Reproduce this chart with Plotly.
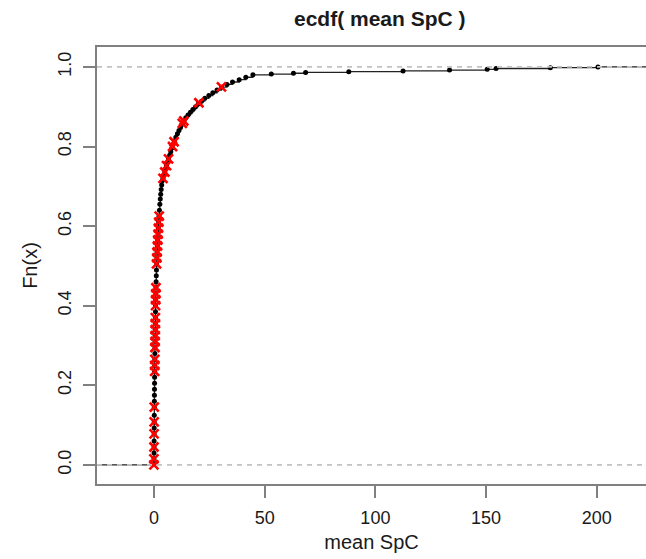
import plotly.graph_objects as go

# ECDF points (x = mean SpC, F = Fn(x))
ecdf_x = [0.0, 0.02, 0.04, 0.06, 0.08, 0.1, 0.12, 0.14, 0.16, 0.18,
          0.2, 0.23, 0.26, 0.29, 0.32, 0.35, 0.38, 0.41, 0.44, 0.47,
          0.5, 0.54, 0.58, 0.62, 0.66, 0.7, 0.75, 0.8, 0.86, 0.92,
          0.98, 1.06, 1.14, 1.23, 1.33, 1.44, 1.56, 1.69, 1.83, 1.98,
          2.14, 2.3, 2.48, 2.67, 2.87, 3.07, 3.28, 3.5, 3.78,
          4.1, 4.5, 4.9, 5.3, 5.7, 6.1, 6.6, 7.1, 7.6, 8.1,
          8.6, 9.2, 9.9, 10.6, 11.3, 12.0, 12.7, 13.5, 14.4, 15.4,
          16.5, 17.6, 18.8, 20.0, 21.5, 23.0, 24.8, 26.6, 28.5, 30.5,
          33.0, 35.5, 38.5, 41.5, 44.7,
          53.0, 63.0, 68.5, 88.0, 112.5, 133.5, 150.5, 154.5, 179.0, 200.5]
ecdf_F = [0.002, 0.015, 0.03, 0.045, 0.06, 0.078, 0.093, 0.108, 0.125, 0.145,
          0.16, 0.175, 0.19, 0.205, 0.22, 0.235, 0.25, 0.265, 0.28, 0.295,
          0.31, 0.325, 0.34, 0.355, 0.37, 0.385, 0.4, 0.415, 0.43, 0.445,
          0.46, 0.475, 0.49, 0.505, 0.52, 0.535, 0.55, 0.565, 0.58, 0.595,
          0.61, 0.625, 0.64, 0.655, 0.668, 0.68, 0.692, 0.703, 0.714,
          0.72, 0.728, 0.736, 0.744, 0.752, 0.76, 0.769, 0.778, 0.787, 0.796,
          0.805, 0.814, 0.823, 0.832, 0.84, 0.848, 0.856, 0.864, 0.872, 0.879,
          0.886, 0.893, 0.9, 0.907, 0.914, 0.921, 0.928, 0.935, 0.942, 0.949,
          0.956, 0.962, 0.968, 0.974, 0.98,
          0.982, 0.984, 0.986, 0.988, 0.99, 0.992, 0.994, 0.996, 0.998, 1.0]

# highlighted samples (red crosses)
red_x = [0.0, 0.0, 0.04, 0.08, 0.12, 0.16,
         0.35, 0.38, 0.41, 0.47, 0.5, 0.54, 0.58, 0.62, 0.66, 0.75, 0.8, 0.86, 0.92,
         1.2, 1.33, 1.44, 1.6, 1.75, 1.9, 2.05, 2.2, 2.4,
         4.1, 4.9, 5.7, 6.6, 8.4, 9.1, 12.8, 13.5, 20.3, 30.5]
red_F = [0.0, 0.015, 0.045, 0.078, 0.108, 0.145,
         0.235, 0.25, 0.265, 0.295, 0.31, 0.325, 0.34, 0.355, 0.37, 0.4, 0.415, 0.43, 0.445,
         0.505, 0.52, 0.535, 0.55, 0.565, 0.58, 0.595, 0.61, 0.625,
         0.72, 0.736, 0.752, 0.769, 0.8, 0.812, 0.858, 0.864, 0.91, 0.95]

x_ticks = [0, 50, 100, 150, 200]
y_ticks = [0.0, 0.2, 0.4, 0.6, 0.8, 1.0]
x_range = [-25.7, 222.2]
y_range = [-0.048, 1.05]

FONT = "Liberation Sans, Arial, sans-serif"
TXT = "#1a1a1a"
FRAME = "#808080"

fig = go.Figure()

# step function
fig.add_trace(go.Scatter(
    x=[x_range[0] - 10] + ecdf_x + [x_range[1] + 40],
    y=[0.0] + ecdf_F + [1.0],
    mode="lines", line=dict(color="#222222", width=1.3, shape="hv"),
    hoverinfo="skip", showlegend=False))
# points
fig.add_trace(go.Scatter(
    x=ecdf_x, y=ecdf_F, mode="markers",
    marker=dict(color="black", size=5, symbol="circle"),
    showlegend=False))
# red crosses
fig.add_trace(go.Scatter(
    x=red_x, y=red_F, mode="markers",
    marker=dict(symbol="x-thin", size=9, color="red",
                line=dict(color="red", width=2.6)),
    showlegend=False))

for h in (0.0, 1.0):
    fig.add_shape(type="line", xref="paper", x0=0, x1=1, yref="y", y0=h, y1=h,
                  line=dict(color="#c2c2c2", width=1.6, dash="5px,5px"),
                  layer="above")

fig.update_layout(
    width=646, height=559,
    margin=dict(l=97, r=0, t=47, b=75),
    paper_bgcolor="white", plot_bgcolor="white",
    font=dict(family=FONT, color=TXT, size=16),
    annotations=[dict(text="<b>ecdf( mean SpC )</b>", x=(380 - 97) / 549, y=(484 - 19) / 437,
                      xref="paper", yref="paper", xanchor="center", yanchor="middle",
                      showarrow=False, font=dict(size=21, family=FONT, color=TXT))],
    xaxis=dict(range=x_range, tickvals=x_ticks, ticktext=[str(v) for v in x_ticks],
               showgrid=False, zeroline=False, showline=True, mirror=True,
               linecolor=FRAME, linewidth=1.5, ticks="outside", ticklen=12,
               tickcolor=FRAME, tickwidth=1.5, tickfont=dict(size=18),
               ticklabelstandoff=5,
               title=dict(text="mean SpC", font=dict(size=20), standoff=8)),
    yaxis=dict(range=y_range, tickvals=y_ticks, ticktext=["%.1f" % v for v in y_ticks],
               showgrid=False, zeroline=False, showline=True, mirror=False,
               linecolor=FRAME, linewidth=1.5, ticks="outside", ticklen=12,
               tickcolor=FRAME, tickwidth=1.5, tickfont=dict(size=18), tickangle=-90,
               ticklabelstandoff=5,
               title=dict(text="Fn(x)", font=dict(size=20), standoff=12)),
)

fig.write_html("out.html")
